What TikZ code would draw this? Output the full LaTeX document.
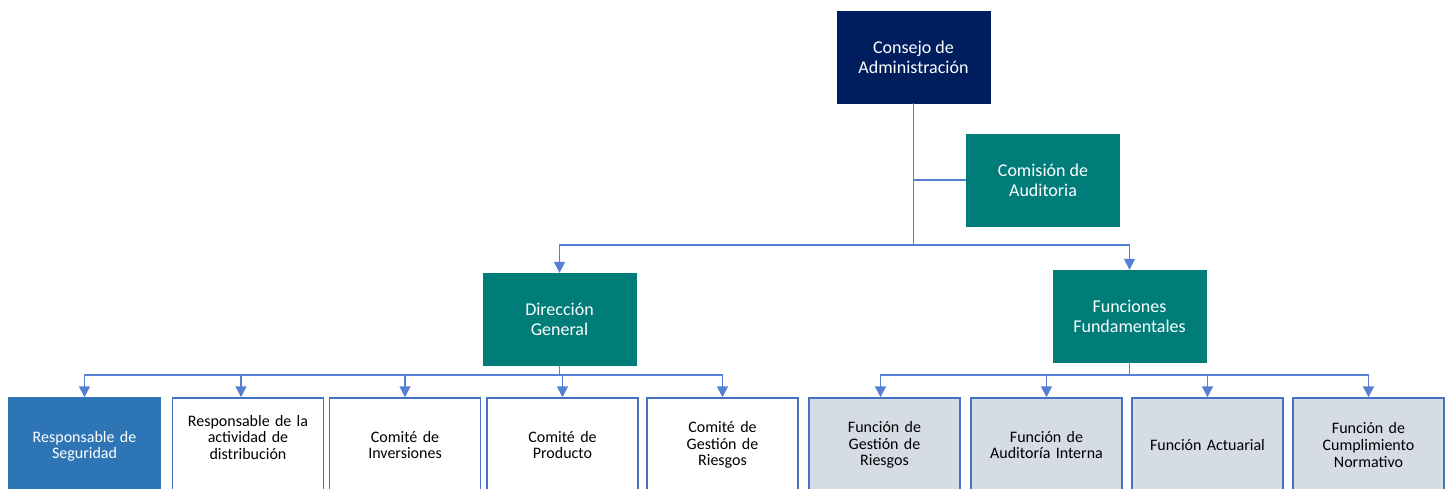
\documentclass[tikz,border=0pt]{standalone}
\usepackage{fontspec}
\setmainfont{Carlito}
\usetikzlibrary{arrows.meta}
\definecolor{navy}{HTML}{001E5E}
\definecolor{teal}{HTML}{007D79}
\definecolor{secblue}{HTML}{2E75B6}
\definecolor{edgeblue}{HTML}{4472C4}
\definecolor{linkblue}{HTML}{5580D2}
\definecolor{paleblue}{HTML}{D6DCE5}
\begin{document}
\begin{tikzpicture}[
        x=1pt, y=-1pt,
        topbox/.style={draw=#1, fill=#1, text=white, minimum width=153pt, minimum height=92pt,
          align=center, inner sep=0pt, font=\fontsize{18}{20}\selectfont},
        lowbox/.style={draw=edgeblue, line width=1.5pt, fill=#1, minimum width=151pt, minimum height=94pt,
          text width=140pt, align=center, inner sep=0pt, font=\fontsize{16}{16.8}\selectfont},
        link/.style={draw=linkblue, line width=1.5pt},
        arr/.style={link, -{Triangle[width=11pt,length=11pt]}}
      ]
      \useasboundingbox (0,0) rectangle (1451,488);
      \clip (0,0) rectangle (1451,488);
      % upper levels
      \node[topbox=navy] (consejo) at (913.5,57) {Consejo de\\Administración};
      \node[topbox=teal] (comision) at (1043,180) {Comisión de\\Auditoria};
      \node[topbox=teal] (direccion) at (559.5,319) {Dirección\\General};
      \node[topbox=teal] (funciones) at (1129.5,316) {Funciones\\Fundamentales};
      % lower level
      \node[lowbox=secblue, draw=secblue, text=white] (seguridad) at (84.5,445) {\mbox{}\\[-3pt]Responsable de\\Seguridad};
      \node[lowbox=white] (distribucion) at (248,445) {Responsable de la\\actividad de\\distribución\\[-1.5pt]\mbox{}};
      \node[lowbox=white] (inversiones) at (405,445) {Comité de\\Inversiones};
      \node[lowbox=white] (producto) at (562.5,445) {Comité de\\Producto};
      \node[lowbox=white] (comriesgos) at (722.5,445) {Comité de\\Gestión de\\Riesgos};
      \node[lowbox=paleblue] (funriesgos) at (884.5,445) {Función de\\Gestión de\\Riesgos};
      \node[lowbox=paleblue] (auditoria) at (1046.5,445) {Función de\\Auditoría Interna};
      \node[lowbox=paleblue] (actuarial) at (1207.5,445) {Función Actuarial};
      \node[lowbox=paleblue] (cumplimiento) at (1368.5,445) {Función de\\Cumplimiento\\Normativo};
      % connectors
      \coordinate (topbus) at (913.5,245);
      \coordinate (dirbus) at (559.5,375);
      \coordinate (funbus) at (1129.5,375);
      \draw[link] (consejo.south) -- (topbus);
      \draw[link] (consejo.south |- comision.west) -- (comision.west);
      \draw[arr] (topbus) -| (direccion.north);
      \draw[arr] (topbus) -| (funciones.north);
      \draw[link] (direccion.south) -- (dirbus);
      \draw[arr] (dirbus) -| (seguridad.north);
      \draw[arr] (dirbus) -| ([xshift=-7pt]distribucion.north);
      \draw[arr] (dirbus) -| (inversiones.north);
      \draw[arr] (dirbus) -| (producto.north);
      \draw[arr] (dirbus) -| (comriesgos.north);
      \draw[link] (funciones.south) -- (funbus);
      \draw[arr] (funbus) -| ([xshift=-4pt]funriesgos.north);
      \draw[arr] (funbus) -| (auditoria.north);
      \draw[arr] (funbus) -| (actuarial.north);
      \draw[arr] (funbus) -| (cumplimiento.north);
\end{tikzpicture}
\end{document}
